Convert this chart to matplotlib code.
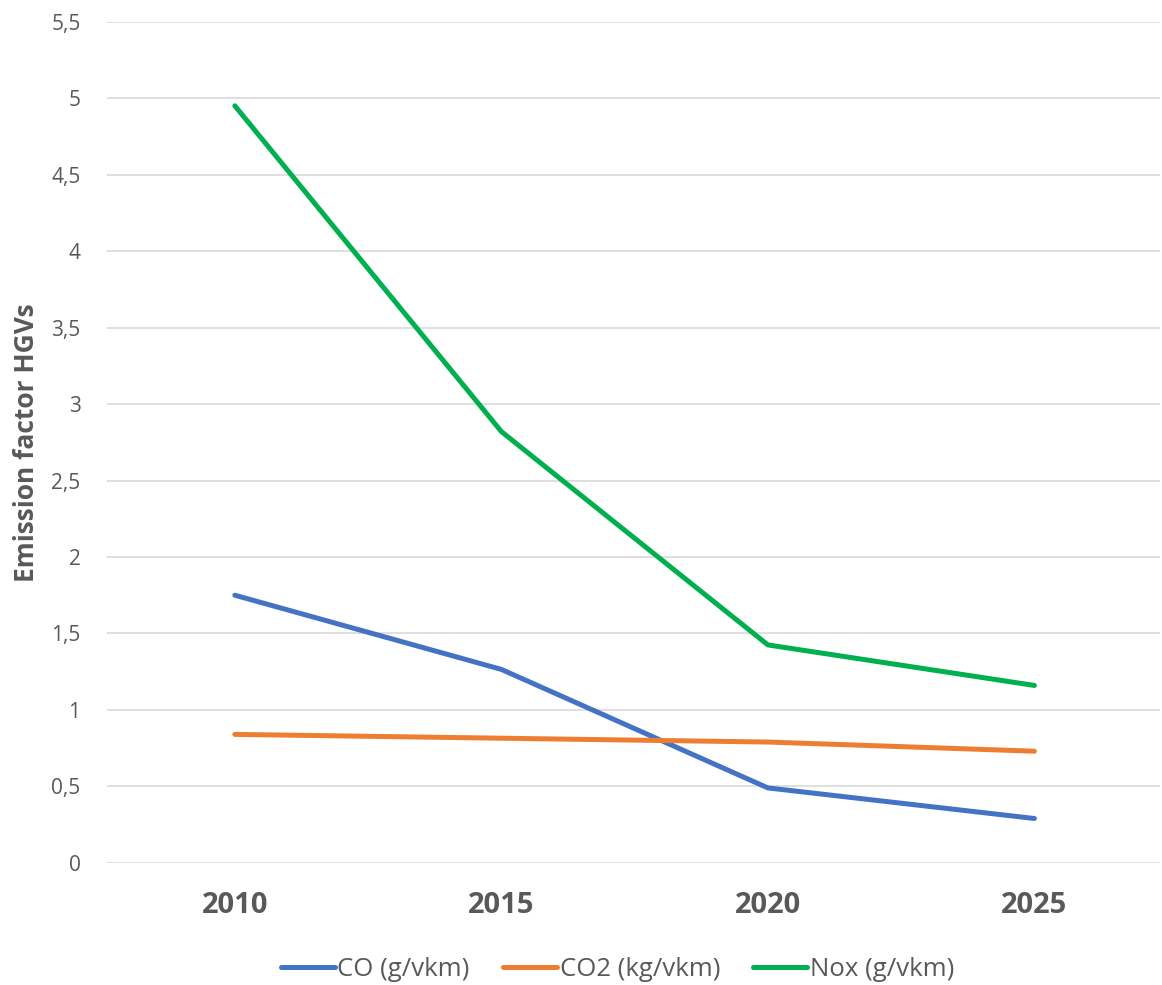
import matplotlib
matplotlib.use("Agg")
import matplotlib.pyplot as plt

# Emission factors for HGVs per year
years = ["2010", "2015", "2020", "2025"]
co = [1.75, 1.265, 0.49, 0.29]
co2 = [0.84, 0.815, 0.79, 0.73]
nox = [4.95, 2.82, 1.425, 1.16]

series = [
    ("CO (g/vkm)", co, "#4472C4"),
    ("CO2 (kg/vkm)", co2, "#ED7D31"),
    ("Nox (g/vkm)", nox, "#00B050"),
]

plt.rcParams['font.family'] = ['Open Sans', 'DejaVu Sans']

fig = plt.figure(figsize=(11.62, 9.85), dpi=100)
ax = fig.add_axes([0.092, 0.124, 0.906, 0.854])

x = range(len(years))
for label, vals, color in series:
    ax.plot(x, vals, color=color, linewidth=3.6, label=label, solid_capstyle='round')

ax.set_xlim(-0.48, 3.47)
ax.set_ylim(0, 5.5)
ax.set_yticks([i * 0.5 for i in range(12)])
ax.set_yticklabels(["0", "0,5", "1", "1,5", "2", "2,5", "3", "3,5", "4", "4,5", "5", "5,5"])
ax.set_xticks(list(x))
ax.set_xticklabels(years, fontweight='bold', fontsize=21, color="#595959")
ax.tick_params(axis='y', length=0, pad=19, labelsize=15, labelcolor="#595959")
ax.tick_params(axis='x', length=0, pad=20)

ax.grid(axis='y', color="#D9D9D9", linewidth=1.2)
ax.set_axisbelow(True)
for s in ax.spines.values():
    s.set_visible(False)

ax.set_ylabel("Emission factor HGVs", fontsize=19, fontweight='bold', color="#595959", labelpad=8)

ax.legend(loc='upper center', bbox_to_anchor=(0.485, -0.094), ncol=3, frameon=False,
          fontsize=18.5, labelcolor="#595959", handlelength=2.1, handletextpad=0.1,
          columnspacing=1.3, borderaxespad=0.2)

fig.savefig("out.png", dpi=100)
